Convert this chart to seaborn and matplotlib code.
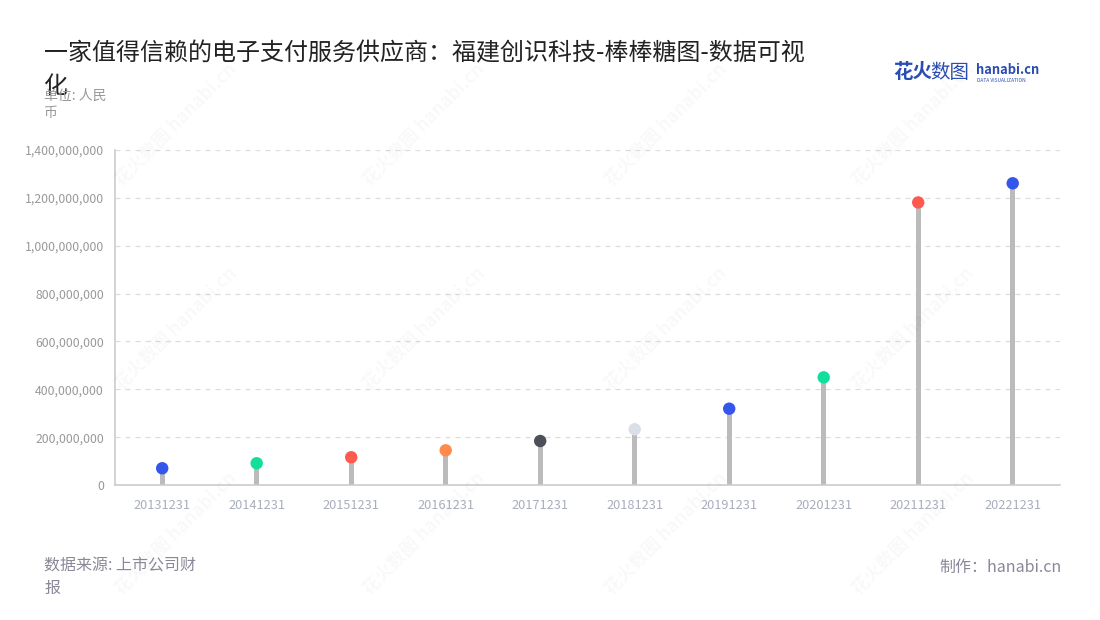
import matplotlib
matplotlib.use("Agg")
import matplotlib.pyplot as plt
import seaborn as sns
import pandas as pd
from matplotlib.ticker import FuncFormatter

dates = ["20131231", "20141231", "20151231", "20161231", "20171231",
         "20181231", "20191231", "20201231", "20211231", "20221231"]
values = [70e6, 91e6, 116e6, 145e6, 184e6, 233e6, 319e6, 450e6, 1181e6, 1261e6]
dot_colors = ["#3556EB", "#12DE9E", "#FF5A4F", "#FF8A4C", "#4E5059",
              "#DADEE8", "#3556EB", "#12DE9E", "#FF5A4F", "#3556EB"]
yticks = [0, 200e6, 400e6, 600e6, 800e6, 1000e6, 1200e6, 1400e6]

title = "一家值得信赖的电子支付服务供应商：福建创识科技-棒棒糖图-数据可视\n化"
unit = "单位: 人民\n币"
source = "数据来源: 上市公司财\n报"
maker = "制作：hanabi.cn"

sns.set_theme(style="white")
plt.rcParams['font.family'] = ['Noto Sans CJK SC', 'DejaVu Sans']

df = pd.DataFrame({"date": dates, "value": values})

fig = plt.figure(figsize=(11, 6.2), dpi=100)
ax = fig.add_axes([0.1045, 0.2177, 0.8591, 0.5403])

# faint watermarks
for wx in [0.16, 0.385, 0.605, 0.83]:
    for wy in [0.80, 0.47, 0.14]:
        fig.text(wx, wy, "花火数图 hanabi.cn", rotation=45, fontsize=13,
                 color="#000000", alpha=0.028, ha="center", va="center",
                 fontweight="bold", zorder=0)

sns.barplot(data=df, x="date", y="value", width=0.05, color="#BBBBBB",
            ax=ax, zorder=2, saturation=1, linewidth=0)
sns.scatterplot(data=df, x="date", y="value", hue="date",
                palette=dict(zip(dates, dot_colors)), s=80, linewidth=0,
                ax=ax, legend=False, zorder=3)

ax.set_xlim(-0.5, len(dates) - 0.5)
ax.set_ylim(0, 1400e6)
ax.set_yticks(yticks)
ax.yaxis.set_major_formatter(FuncFormatter(lambda v, p: f"{int(v):,}"))
ax.set_xlabel("")
ax.set_ylabel("")
ax.grid(axis="y", linestyle=(0, (4, 4)), color="#DDDDDD", linewidth=0.9)
ax.set_axisbelow(True)
for s in ["top", "right"]:
    ax.spines[s].set_visible(False)
for s in ["left", "bottom"]:
    ax.spines[s].set_color("#CCCCCC")
    ax.spines[s].set_linewidth(1.2)
ax.tick_params(axis="y", length=5, color="#CCCCCC", labelsize=8.8,
               labelcolor="#999999", pad=3)
ax.tick_params(axis="x", length=5, color="#CCCCCC", labelsize=9.2,
               labelcolor="#A9AEBD", pad=5)

fig.text(44 / 1100, 1 - 40 / 620, title, fontsize=17.3, color="#222222",
         ha="left", va="top", linespacing=1.35)
fig.text(44 / 1100, 1 - 89 / 620, unit, fontsize=10, color="#999999",
         ha="left", va="top", linespacing=1.3)
fig.text(44 / 1100, 1 - 558 / 620, source, fontsize=11.5, color="#888899",
         ha="left", va="top", linespacing=1.35)
fig.text(1062 / 1100, 1 - 567 / 620, maker, fontsize=11.5, color="#888899",
         ha="right", va="center")

# logo
fig.text(893 / 1100, 1 - 73 / 620, "花火", fontsize=14, color="#2A4DB3",
         fontweight="bold", ha="left", va="center")
fig.text(930 / 1100, 1 - 73 / 620, "数图", fontsize=14, color="#2A4DB3",
         ha="left", va="center")
fig.text(976 / 1100, 1 - 70 / 620, "hanabi.cn", fontsize=9.3, color="#2A4DB3",
         fontweight="bold", ha="left", va="center")
fig.text(977 / 1100, 1 - 80 / 620, "DATA VISUALIZATION", fontsize=3.5,
         color="#2A4DB3", ha="left", va="center")

fig.savefig("out.png", dpi=100)
